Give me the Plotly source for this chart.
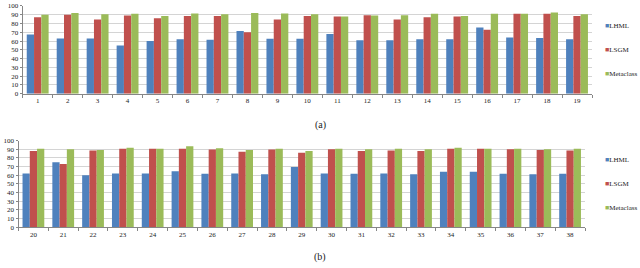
import plotly.graph_objects as go

cats_a = [str(i) for i in range(1, 20)]
cats_b = [str(i) for i in range(20, 39)]

lhml_a = [67.5, 63, 63, 55, 60, 62, 61.5, 71.5, 62.5, 62.5, 68, 61, 61, 62, 62, 75.5, 64, 63.5, 62]
lsgm_a = [87, 90, 84.5, 89, 86, 88.5, 88.5, 70, 84.5, 88.5, 88, 89.5, 84.5, 87, 88, 73, 91, 91, 88.5]
meta_a = [90, 92, 90.5, 91, 88.5, 91.5, 90.5, 92, 91.5, 90.5, 88, 89, 89.5, 91, 88.5, 91, 91, 92.5, 90.5]

lhml_b = [62, 75, 60, 62, 62, 64.5, 61.5, 62, 61, 69.5, 62, 61.5, 62, 61, 64, 64, 61.5, 61, 61.5]
lsgm_b = [88, 73, 88.5, 90.5, 90.5, 90.5, 89.5, 87, 89.5, 86, 90, 88, 88.5, 88, 90.5, 90.5, 90, 89, 88.5]
meta_b = [90.5, 90, 89, 91.5, 90.5, 93.5, 91, 89, 90.5, 88, 90.5, 90, 90.5, 90, 91.5, 90.5, 90.5, 90, 90.5]

series_names = ["LHML", "LSGM", "Metaclass"]
colors = ["#4F81BD", "#C0504D", "#9BBB59"]
y_ticks = list(range(0, 101, 10))

W, H = 640, 268
FONT = "Liberation Serif"

fig = go.Figure()
for vals, name, col in zip([lhml_a, lsgm_a, meta_a], series_names, colors):
    fig.add_trace(go.Bar(x=cats_a, y=vals, name=name, marker_color=col,
                         marker_line_width=0, xaxis="x", yaxis="y", showlegend=False))
for vals, name, col in zip([lhml_b, lsgm_b, meta_b], series_names, colors):
    fig.add_trace(go.Bar(x=cats_b, y=vals, name=name, marker_color=col,
                         marker_line_width=0, xaxis="x2", yaxis="y2", showlegend=False))

def px_x(p):
    return p / W

def px_y(p):
    return (H - p) / H

xcommon = dict(type="category", showline=True, linecolor="#868686", linewidth=1,
               ticks="outside", tickson="boundaries", ticklen=3, tickcolor="#868686",
               tickfont=dict(family=FONT, size=7, color="#222"), showgrid=False)
ycommon = dict(range=[0, 100], tickvals=y_ticks, showline=True, linecolor="#868686",
               linewidth=1, ticks="outside", ticklen=2, tickcolor="#868686",
               gridcolor="#d4d4d4", gridwidth=1, zeroline=False,
               tickfont=dict(family=FONT, size=7, color="#222"))

fig.update_layout(
    width=W, height=H,
    margin=dict(l=0, r=0, t=0, b=0),
    paper_bgcolor="white", plot_bgcolor="white",
    barmode="group", bargap=0.27, bargroupgap=0,
    xaxis=dict(domain=[px_x(22.7), px_x(592)], anchor="y", **xcommon),
    yaxis=dict(domain=[px_y(92.5), px_y(2)], anchor="x", **ycommon),
    xaxis2=dict(domain=[px_x(18.5), px_x(585)], anchor="y2", **xcommon),
    yaxis2=dict(domain=[px_y(230), px_y(140.7)], anchor="x2", **ycommon),
)

annotations = []
leg_top = [22.7, 47.7, 71.7]
leg_bot = [161, 186, 210]
for ys in (leg_top, leg_bot):
    for yy, name, col in zip(ys, series_names, colors):
        annotations.append(dict(
            x=px_x(603), y=px_y(yy), xref="paper", yref="paper",
            xanchor="left", yanchor="middle", showarrow=False,
            text=f"<span style='color:{col}'>■</span>{name}",
            font=dict(family=FONT, size=7, color="#222")))
annotations.append(dict(x=0.5, y=px_y(125), xref="paper", yref="paper",
                        xanchor="center", yanchor="middle", showarrow=False,
                        text="(a)", font=dict(family=FONT, size=10, color="#222")))
annotations.append(dict(x=0.5, y=px_y(261), xref="paper", yref="paper",
                        xanchor="center", yanchor="middle", showarrow=False,
                        text="(b)", font=dict(family=FONT, size=10, color="#222")))
fig.update_layout(annotations=annotations)

fig.write_html("out.html", config={"displayModeBar": False},
               post_script="document.body.style.margin='0';document.body.style.overflow='hidden';")
